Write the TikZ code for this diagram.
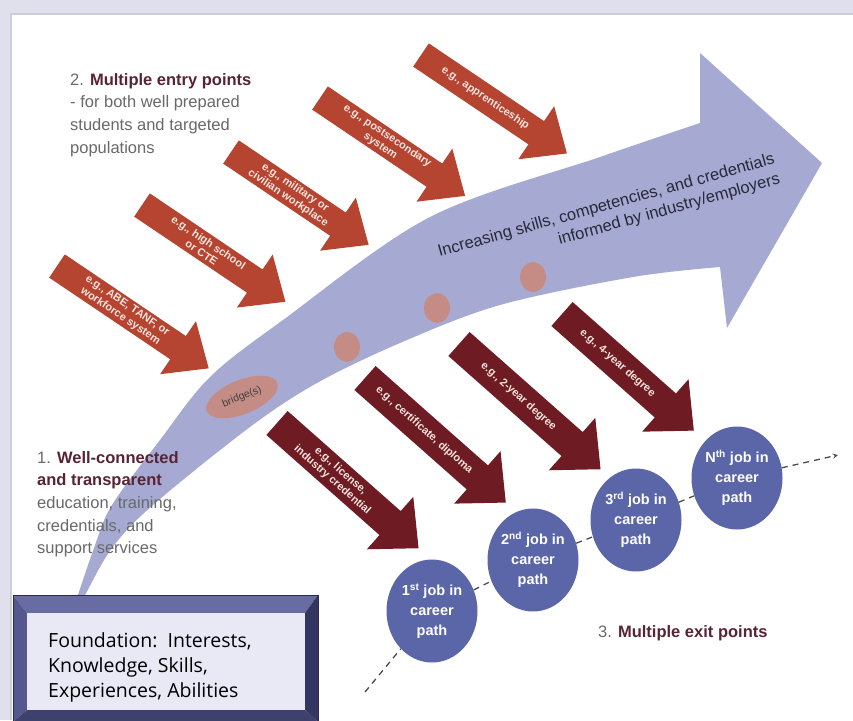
\documentclass[tikz,border=0pt]{standalone}
\usepackage{fontspec}
\setmainfont{Liberation Sans}
\newfontfamily\boxfont{Open Sans}
\usetikzlibrary{shapes.geometric, arrows, calc}

\definecolor{framelav}{RGB}{224,224,236}
\definecolor{framelin}{RGB}{204,204,222}
\definecolor{bandblue}{RGB}{166,170,211}
\definecolor{entryred}{RGB}{181,68,48}
\definecolor{exitred}{RGB}{110,27,35}
\definecolor{jobblue}{RGB}{91,102,168}
\definecolor{dotpink}{RGB}{196,140,133}
\definecolor{txtgray}{RGB}{105,105,105}
\definecolor{txtmaroon}{RGB}{88,36,52}
\definecolor{bandtxt}{RGB}{40,40,58}
\definecolor{arrowtxt}{RGB}{247,228,222}
\definecolor{boxfill}{RGB}{232,233,245}
\definecolor{bevtop}{RGB}{104,108,162}
\definecolor{bevleft}{RGB}{84,88,142}
\definecolor{bevright}{RGB}{52,54,98}
\definecolor{bevbot}{RGB}{62,64,110}

\tikzset{
    arrowlbl/.style={text=arrowtxt, font=\fontsize{11}{12.5}\selectfont\bfseries, align=center, inner sep=0pt},
    jobnode/.style={ellipse, fill=jobblue, text=white, minimum width=91pt, minimum height=103pt,
        inner sep=0pt, align=center, font=\fontsize{14.5}{20}\selectfont\bfseries},
    sidelbl/.style={text=txtgray, font=\fontsize{16.5}{22.7}\selectfont, align=left, inner sep=0pt},
    dashline/.style={draw=black!70, line width=1.3pt, dash pattern=on 6pt off 5pt, -stealth}
}

\begin{document}
\begin{tikzpicture}[x=1pt, y=-1pt]
    \useasboundingbox (0,0) rectangle (853,720);
    % frame
    \fill[framelav] (0,0) rectangle (853,720);
    \fill[framelin] (10,13) rectangle (853,720);
    \fill[white] (12,15) rectangle (853,720);

    % big curved arrow
    \fill[bandblue] plot[smooth, tension=0.55] coordinates {(68,625) (94,548) (112,505) (160,440) (210,377) (283,320) (430,217) (600,157) (700,123)}
        -- (700,53) -- (822,163) -- (727,328) -- (720,267)
        -- plot[smooth, tension=0.55] coordinates {(720,267) (633,277) (500,305) (400,343) (317,383) (250,427) (153,505) (112,548) (85,595) (68,625)} -- cycle;
    \foreach \x/\y in {347/347, 437/308, 533/277} {
        \fill[dotpink] (\x,\y) ellipse (13pt and 15pt);
    }
    \node[ellipse, fill=dotpink, minimum width=76pt, minimum height=34pt, rotate=22,
        font=\fontsize{10.5}{12}\selectfont, text=black!75] (bridge) at (242,397) {bridge(s)};

    % entry points
    \foreach \nm/\tx/\ty/\alen/\txt in {e1/57/266/183/{e.g., ABE, TANF, or\\workforce system},
            e2/142/205/173/{e.g., high school\\or CTE}, e3/231/152/166/{e.g., military or\\civilian workplace},
            e4/320/98/175/{e.g., postsecondary\\system}, e5/421/55/176/{e.g., apprenticeship}} {
        \begin{scope}[shift={(\tx,\ty)}, rotate=-34]
            \fill[entryred] (0,-14) -- ({\alen-37},-14) -- ({\alen-37},-32) -- (\alen,0)
                -- ({\alen-37},32) -- ({\alen-37},14) -- (0,14) -- cycle;
            \node[arrowlbl, rotate=-34] (\nm) at ({0.44*\alen},0) {\txt};
        \end{scope}
    }

    % exit points
    \foreach \nm/\tx/\ty/\alen/\txt in {x1/277/423/189/{e.g., license,\\industry credential},
            x2/365/378/188/{e.g., certificate, diploma}, x3/459/344/189/{e.g., 2-year degree},
            x4/562/314/176/{e.g., 4-year degree}} {
        \begin{scope}[shift={(\tx,\ty)}, rotate=-41.5]
            \fill[exitred] (0,-16) -- ({\alen-38},-16) -- ({\alen-38},-35) -- (\alen,0)
                -- ({\alen-38},35) -- ({\alen-38},16) -- (0,16) -- cycle;
            \node[arrowlbl, rotate=-41.5] (\nm) at ({0.42*\alen},0) {\txt};
        \end{scope}
    }

    \node[rotate=15.5, align=right, inner sep=0pt, text=bandtxt,
        font=\fontsize{16.5}{20.5}\selectfont] (bandlbl) at (609,216)
        {Increasing skills, competencies, and credentials\\informed by industry/employers};

    % jobs along the career path
    \node[jobnode] (job1) at (432,611) {1\textsuperscript{st} job in\\career\\path};
    \node[jobnode] (job2) at (533,560) {2\textsuperscript{nd} job in\\career\\path};
    \node[jobnode] (job3) at (636,520) {3\textsuperscript{rd} job in\\career\\path};
    \node[jobnode] (job4) at (737,478) {N\textsuperscript{th} job in\\career\\path};
    \coordinate (dstart) at (365,692);
    \coordinate (dend) at (838,455);
    \draw[dashline] (dstart) -- (job1) -- (job2) -- (job3) -- (job4) -- (dend);

    % labels
    \node[sidelbl, anchor=north west] (entrylbl) at (70,73)
        {2. {\bfseries\color{txtmaroon}Multiple entry points}\\- for both well prepared\\students and targeted\\populations};
    \node[sidelbl, anchor=north west] (pathlbl) at (37,451)
        {1. {\bfseries\color{txtmaroon}Well-connected}\\{\bfseries\color{txtmaroon}and transparent}\\education, training,\\credentials, and\\support services};
    \node[sidelbl, anchor=base west] (exitlbl) at (598,637) {3. {\bfseries\color{txtmaroon}Multiple exit points}};

    % foundation box
    \fill[bevtop] (13,595) -- (318,595) -- (305,613) -- (27,613) -- cycle;
    \fill[bevleft] (13,595) -- (27,613) -- (27,710) -- (13,722) -- cycle;
    \fill[bevright] (318,595) -- (318,722) -- (305,710) -- (305,613) -- cycle;
    \fill[bevbot] (13,722) -- (318,722) -- (305,710) -- (27,710) -- cycle;
    \fill[boxfill] (27,613) rectangle (305,710);
    \draw[bevright!80!black, line width=0.8pt] (13,722) -- (13,595) -- (318,595) -- (318,722);
    \node[anchor=north west, align=left, inner sep=0pt, font=\boxfont\fontsize{19.5}{25}\selectfont] (found) at (48,632)
        {Foundation:\ \ Interests,\\Knowledge, Skills,\\Experiences, Abilities};
\end{tikzpicture}
\end{document}
